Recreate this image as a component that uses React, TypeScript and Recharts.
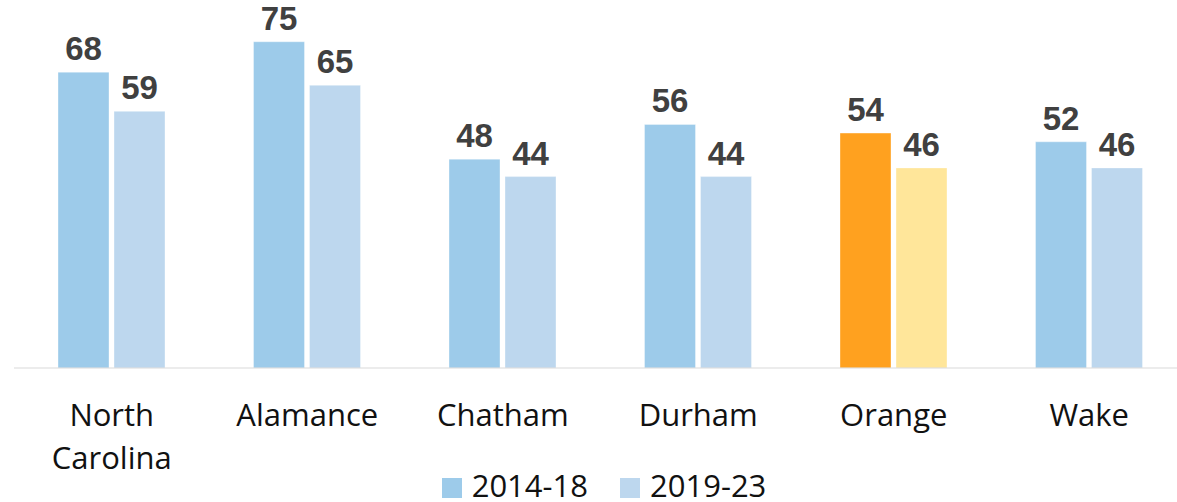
import React from "react";
import { BarChart, Bar, XAxis, YAxis, Cell, LabelList, Legend } from "recharts";

const categories = ["North Carolina", "Alamance", "Chatham", "Durham", "Orange", "Wake"];
const series2014_18 = [68, 75, 48, 56, 54, 52];
const series2019_23 = [59, 65, 44, 44, 46, 46];
const seriesNames = ["2014-18", "2019-23"];
const highlightCategory = "Orange";

const baseColors = ["#9DCBEA", "#BDD7EE"];
const highlightColors = ["#FFA11F", "#FFE69A"];

const data = categories.map((name, i) => ({
  name,
  a: series2014_18[i],
  b: series2019_23[i],
}));

const CatTick = (props: any) => {
  const { x, y, payload } = props;
  const label: string = payload.value;
  const lines = label.length > 10 ? label.split(" ") : [label];
  return (
    <text
      x={x}
      y={y}
      textAnchor="middle"
      fill="#111111"
      style={{ fontFamily: "'Open Sans', sans-serif", fontSize: 31 }}
    >
      {lines.map((ln, i) => (
        <tspan key={i} x={x} dy={i === 0 ? 50 : 43}>
          {ln}
        </tspan>
      ))}
    </text>
  );
};

const LegendContent = () => (
  <div
    style={{
      display: "flex",
      justifyContent: "center",
      alignItems: "flex-start",
      height: 31,
      paddingLeft: 7,
      fontFamily: "'Open Sans', sans-serif",
      fontSize: 31,
      lineHeight: "28px",
      color: "#111111",
    }}
  >
    {seriesNames.map((n, i) => (
      <div key={n} style={{ display: "flex", alignItems: "flex-start", marginRight: i === 0 ? 32 : 0 }}>
        <div style={{ width: 20, height: 20, background: baseColors[i], marginTop: 7, marginRight: 10 }} />
        <span>{n}</span>
      </div>
    ))}
  </div>
);

const labelStyle = {
  fontFamily: "'Liberation Sans', Arial, sans-serif",
  fontWeight: 700,
  fontSize: 33,
  fill: "#404040",
};

export default function App() {
  return (
    <div style={{ position: "absolute", left: 0, top: 0 }}>
      <BarChart
        width={1200}
        height={502}
        data={data}
        margin={{ top: 20, right: 13, left: 14, bottom: 0 }}
        barSize={51}
        barGap={5}
      >
        <XAxis
          dataKey="name"
          axisLine={{ stroke: "#D9D9D9", strokeWidth: 1 }}
          tickLine={false}
          height={103}
          tick={<CatTick />}
          interval={0}
        />
        <YAxis hide domain={[0, 80]} />
        <Legend verticalAlign="bottom" height={31} content={<LegendContent />} />
        <Bar dataKey="a" name={seriesNames[0]} fill={baseColors[0]} isAnimationActive={false} stroke="#ffffff" strokeOpacity={0.35}>
          {data.map((d, i) => (
            <Cell key={i} fill={d.name === highlightCategory ? highlightColors[0] : baseColors[0]} />
          ))}
          <LabelList dataKey="a" position="top" offset={12} style={labelStyle} />
        </Bar>
        <Bar dataKey="b" name={seriesNames[1]} fill={baseColors[1]} isAnimationActive={false} stroke="#ffffff" strokeOpacity={0.35}>
          {data.map((d, i) => (
            <Cell key={i} fill={d.name === highlightCategory ? highlightColors[1] : baseColors[1]} />
          ))}
          <LabelList dataKey="b" position="top" offset={12} style={labelStyle} />
        </Bar>
      </BarChart>
    </div>
  );
}
